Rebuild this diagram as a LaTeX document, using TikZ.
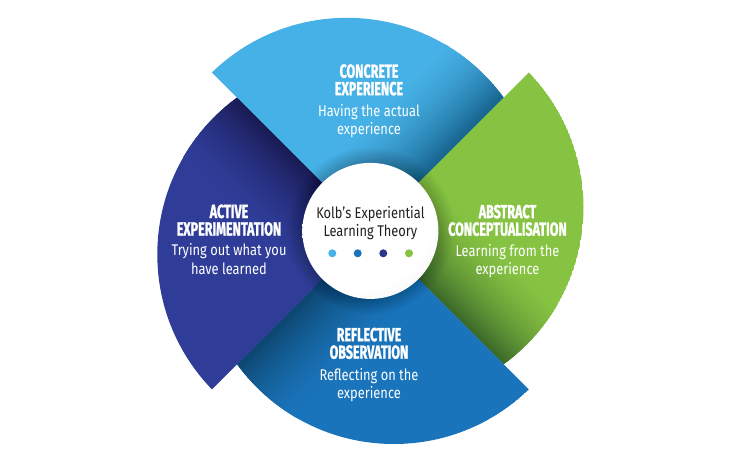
\documentclass[tikz,border=0pt]{standalone}
\usepackage{fontspec}
\setmainfont{Fira Sans}
\newfontfamily\kolbtitlefont[FakeStretch=0.66,FakeBold=1.2]{Fira Sans}
\newfontfamily\kolbbodyfont[FakeStretch=0.83]{Fira Sans}
\definecolor{cLight}{HTML}{46B1E6}
\definecolor{cLightD}{HTML}{18658F}
\definecolor{cGreen}{HTML}{86C342}
\definecolor{cGreenD}{HTML}{3C6A2A}
\definecolor{cMid}{HTML}{1A74BB}
\definecolor{cMidD}{HTML}{0D4670}
\definecolor{cNavy}{HTML}{2F3D99}
\definecolor{cNavyD}{HTML}{1A1B55}
\definecolor{cText}{HTML}{231F20}
\pgfdeclareradialshading{kolbsphere}{\pgfpoint{-12bp}{14bp}}{color(0bp)=(white); color(30bp)=(white); color(45bp)=(black!7); color(60bp)=(black!26); color(70bp)=(black!36)}
\newcommand\kolbsector[3]{%
  \begin{scope}[shift={(370.4,230.9)}, rotate=#1]
    \begin{scope}
      \clip (0,0) -- (-420,-420) -- (420,-420) -- cycle;
      \clip (-23.5,-19.1) circle[radius=194];
      \fill[#2] (-23.5,-19.1) circle[radius=194];
      \begin{scope}[rotate=45]
        \foreach \i in {0,...,39} {
          \pgfmathsetmacro\pct{100*(1-\i/40)^1.6}
          \fill[#3!\pct!#2] (0,-2*\i) rectangle (420,-2*\i-2.6);
        }
      \end{scope}
    \end{scope}
  \end{scope}}
\tikzset{
  ttl/.style={font=\kolbtitlefont\bfseries\fontsize{19}{19}\selectfont, text=white, anchor=base, inner sep=0pt},
  bdy/.style={font=\kolbbodyfont\fontsize{15.5}{15.5}\selectfont, text=white, anchor=base, inner sep=0pt},
  ctr/.style={font=\kolbbodyfont\fontsize{15.5}{15.5}\selectfont, text=cText, anchor=base, inner sep=0pt},
  dot/.style={circle, inner sep=0pt, minimum size=8pt}
}
\begin{document}
\begin{tikzpicture}[x=1pt,y=-1pt]
\useasboundingbox (0,0) rectangle (740,464);
\fill[white] (0,0) rectangle (740,464);
\coordinate (A) at (370.4,230.9);
% four sectors
\kolbsector{0}{cLight}{cLightD}
\kolbsector{-90}{cGreen}{cGreenD}
\kolbsector{180}{cMid}{cMidD}
\kolbsector{90}{cNavy}{cNavyD}
% soft shadow around the centre
\foreach \k in {1,...,12} {
  \fill[black, opacity=0.015] (A) circle[radius=68+\k*1.3];
}
% central sphere
\shade[shading=kolbsphere] (A) circle[radius=68];
% centre text
\node[ctr] (c1) at (370.4,218.3) {Kolb’s Experiential};
\node[ctr] (c2) at (370.4,236.3) {Learning Theory};
\node[dot, fill=cLight] (d1) at (332.3,253.3) {};
\node[dot, fill=cMid] (d2) at (357.7,253.3) {};
\node[dot, fill=cNavy!90!black] (d3) at (383.3,253.3) {};
\node[dot, fill=cGreen] (d4) at (409,253.3) {};
% top
\node[ttl] (t1) at (369,77.7) {CONCRETE};
\node[ttl] (t2) at (369,95.2) {EXPERIENCE};
\node[bdy] (t3) at (369,116.2) {Having the actual};
\node[bdy] (t4) at (369,134) {experience};
% left
\node[ttl] (l1) at (229,218) {ACTIVE};
\node[ttl] (l2) at (229,235.5) {EXPERIMENTATION};
\node[bdy] (l3) at (229,255.8) {Trying out what you};
\node[bdy] (l4) at (229,274) {have learned};
% right
\node[ttl] (r1) at (507.5,218.2) {ABSTRACT};
\node[ttl] (r2) at (507.5,235.7) {CONCEPTUALISATION};
\node[bdy] (r3) at (507.5,256.5) {Learning from the};
\node[bdy] (r4) at (507.5,274.5) {experience};
% bottom
\node[ttl] (b1) at (369,341.2) {REFLECTIVE};
\node[ttl] (b2) at (369,358.7) {OBSERVATION};
\node[bdy] (b3) at (369,380) {Reflecting on the};
\node[bdy] (b4) at (369,398) {experience};
\end{tikzpicture}
\end{document}
